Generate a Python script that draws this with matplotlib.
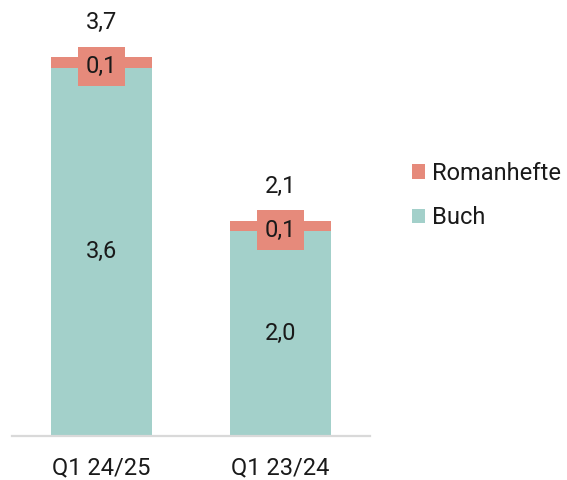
import matplotlib
matplotlib.use("Agg")
import matplotlib.pyplot as plt

# data
categories = ["Q1 24/25", "Q1 23/24"]
buch = [3.6, 2.0]
romanhefte = [0.1, 0.1]
totals = [3.7, 2.1]

plt.rcParams["font.family"] = ["Roboto", "DejaVu Sans"]

TEAL = "#A3D0CA"
SALMON = "#E68A7B"
TEXT = "#1a1a1a"
FS = 17


def fmt(v):
    return f"{v:.1f}".replace(".", ",")


fig = plt.figure(figsize=(5.67, 4.8), dpi=100)
ax = fig.add_axes([12 / 567, 44.5 / 480, 358 / 567, 425.5 / 480])

x = list(range(len(categories)))
width = 0.566

b1 = ax.bar(x, buch, width, color=TEAL, label="Buch", zorder=2)
b2 = ax.bar(x, romanhefte, width, bottom=buch, color=SALMON, label="Romanhefte", zorder=2)

for i in x:
    ax.text(i, buch[i] / 2, fmt(buch[i]), ha="center", va="center",
            fontsize=FS, color=TEXT, zorder=3)
    ax.text(i, buch[i] + romanhefte[i] / 2 - 0.04, fmt(romanhefte[i]), ha="center", va="center",
            fontsize=FS, color=TEXT, zorder=3,
            bbox=dict(boxstyle="square,pad=0.35", fc=SALMON, ec="none"))
    ax.annotate(fmt(totals[i]), (i, totals[i]), xytext=(0, 25), textcoords="offset points",
                ha="center", va="center", fontsize=FS, color=TEXT)

ax.set_xlim(-0.5, 1.5)
ax.set_ylim(0, 4.163)
ax.set_xticks(x)
ax.set_xticklabels(categories, fontsize=FS, color=TEXT)
ax.tick_params(axis="x", length=0, pad=15)
ax.set_yticks([])

for s in ["top", "right", "left"]:
    ax.spines[s].set_visible(False)
ax.spines["bottom"].set_color("#D9D9D9")
ax.spines["bottom"].set_linewidth(1.6)
ax.spines["bottom"].set_zorder(3)

handles = [b2, b1]
leg = fig.legend(handles, ["Romanhefte", "Buch"], loc="center left",
                 bbox_to_anchor=(412 / 567, 284.5 / 480), frameon=False,
                 fontsize=FS, handlelength=0.55, handleheight=0.55,
                 handletextpad=0.3, labelspacing=0.9, borderpad=0, borderaxespad=0)
for t in leg.get_texts():
    t.set_color(TEXT)

fig.savefig("out.png", dpi=100)
